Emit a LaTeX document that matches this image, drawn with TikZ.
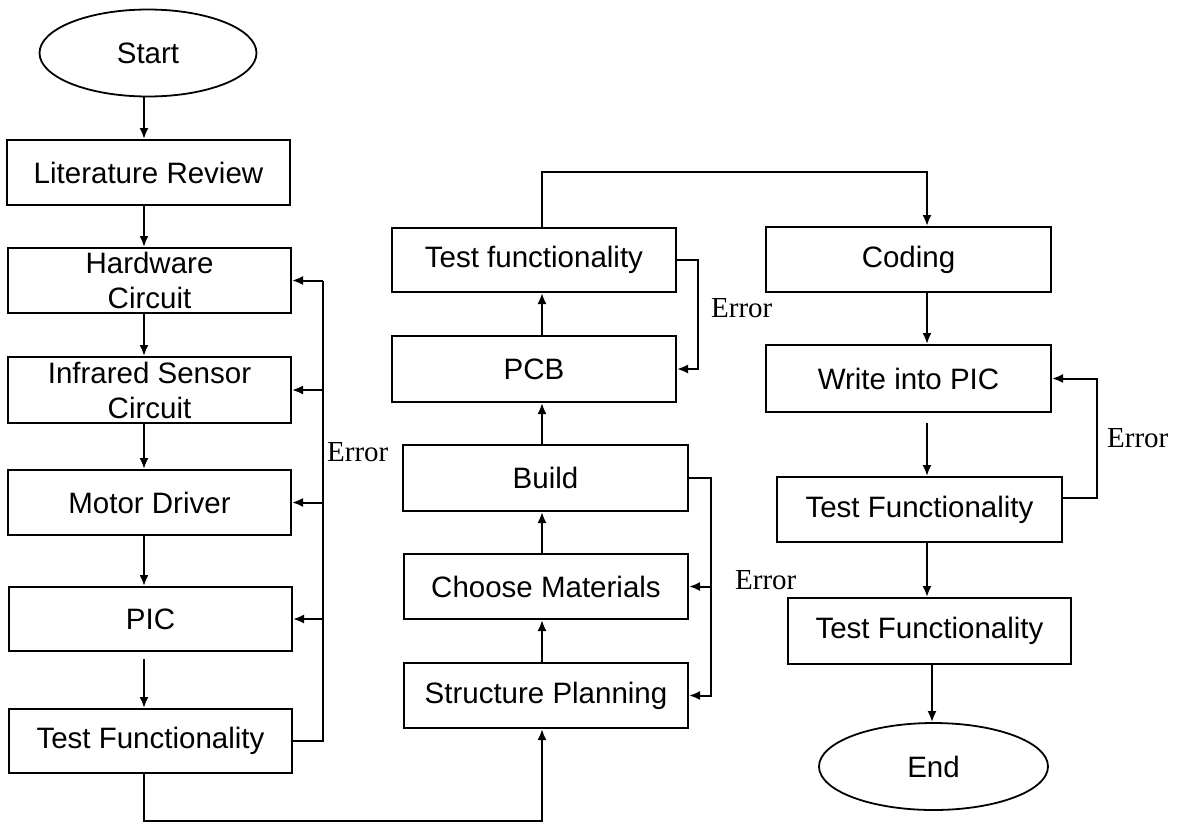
\documentclass[tikz,border=0pt]{standalone}
\usepackage{fontspec}
\setmainfont{Liberation Sans}
\newfontfamily\errfont{Liberation Serif}
\usetikzlibrary{shapes.geometric,arrows.meta,calc}
\begin{document}
\begin{tikzpicture}[x=1pt,y=-1pt,
 box/.style={draw,line width=2pt,rectangle,inner sep=0pt,align=center,font=\fontsize{29.5}{35}\selectfont},
 oval/.style={draw,line width=1.8pt,ellipse,inner sep=0pt,font=\fontsize{29.5}{35}\selectfont},
 arr/.style={line width=2pt,-{Latex[length=11pt,width=9pt]}},
 ln/.style={line width=2pt},
 err/.style={font=\errfont\fontsize{29}{32}\selectfont,inner sep=0pt}]
\useasboundingbox (0,0) rectangle (1186,823);
% column guides
\coordinate (cL) at (144,0);
\coordinate (fbL) at (323,0);
\coordinate (cM) at (542,0);
\coordinate (fbM1) at (698,0);
\coordinate (fbM2) at (711,0);
\coordinate (cR) at (927,0);
\coordinate (cE) at (932,0);
\coordinate (fbR) at (1097,0);
\coordinate (topY) at (0,172);
\coordinate (botY) at (0,821);
% left column
\node[oval,minimum width=217pt,minimum height=87pt] (start) at (148,53) {Start};
\node[box,minimum width=283pt,minimum height=65pt] (lit) at (148.5,172.5) {Literature Review};
\node[box,minimum width=283pt,minimum height=65pt] (hw) at (149.5,280.5) {Hardware\\Circuit};
\node[box,minimum width=283pt,minimum height=66pt] (ir) at (149.5,390) {Infrared Sensor\\Circuit};
\node[box,minimum width=283pt,minimum height=65pt] (md) at (149.5,502.5) {Motor Driver};
\node[box,minimum width=283pt,minimum height=64pt] (pic) at (150.5,619) {PIC};
\node[box,minimum width=283pt,minimum height=64pt] (tf1) at (150.5,741) {Test Functionality};
% middle column
\node[box,minimum width=284pt,minimum height=64pt] (tfm) at (534,260) {Test functionality};
\node[box,minimum width=284pt,minimum height=66pt] (pcb) at (534,369) {PCB};
\node[box,minimum width=285pt,minimum height=66pt] (build) at (545.5,478) {Build};
\node[box,minimum width=284pt,minimum height=65pt] (cm) at (546,586.5) {Choose Materials};
\node[box,minimum width=284pt,minimum height=65pt] (sp) at (546,695.5) {Structure Planning};
% right column
\node[box,minimum width=285pt,minimum height=65pt] (coding) at (908.5,259.5) {Coding};
\node[box,minimum width=285pt,minimum height=67pt] (wip) at (908.5,378.5) {Write into PIC};
\node[box,minimum width=285pt,minimum height=65pt] (tfr) at (919.5,509.5) {Test Functionality};
\node[box,minimum width=283pt,minimum height=66pt] (tfr2) at (929.5,631) {Test Functionality};
\node[oval,minimum width=229pt,minimum height=87pt] (end) at (933.5,766.5) {End};
% error labels
\node[err,anchor=west] (e1) at (327,452) {Error};
\node[err,anchor=west] (e2) at (711,308) {Error};
\node[err,anchor=west] (e3) at (735,580) {Error};
\node[err,anchor=west] (e4) at (1107,438) {Error};
% left column flow
\draw[arr] (start.south -| cL) -- (lit.north -| cL);
\draw[arr] (lit.south -| cL) -- (hw.north -| cL);
\draw[arr] (hw.south -| cL) -- (ir.north -| cL);
\draw[arr] (ir.south -| cL) -- (md.north -| cL);
\draw[arr] (md.south -| cL) -- (pic.north -| cL);
\draw[arr,shorten <=7pt] (pic.south -| cL) -- (tf1.north -| cL);
% left feedback
\draw[ln] (tf1.east) -| (fbL |- hw.east);
\draw[arr] (fbL |- hw.east) -- (hw.east);
\draw[arr] (fbL |- ir.east) -- (ir.east);
\draw[arr] (fbL |- md.east) -- (md.east);
\draw[arr] (fbL |- pic.east) -- (pic.east);
% left to middle
\draw[arr] (tf1.south -| cL) |- (botY -| cM) -- (sp.south -| cM);
% middle flow (upwards)
\draw[arr] (sp.north -| cM) -- (cm.south -| cM);
\draw[arr] (cm.north -| cM) -- (build.south -| cM);
\draw[arr] (build.north -| cM) -- (pcb.south -| cM);
\draw[arr] (pcb.north -| cM) -- (tfm.south -| cM);
% middle feedbacks
\draw[arr] (tfm.east) -| (fbM1 |- pcb.east) -- (pcb.east);
\draw[arr] (build.east) -| (fbM2 |- sp.east) -- (sp.east);
\draw[arr] (fbM2 |- cm.east) -- (cm.east);
% middle to right
\draw[arr] (tfm.north -| cM) |- (topY -| cR) -- (coding.north -| cR);
% right column flow
\draw[arr] (coding.south -| cR) -- (wip.north -| cR);
\draw[arr,shorten <=10pt] (wip.south -| cR) -- (tfr.north -| cR);
\draw[arr] (tfr.south -| cR) -- (tfr2.north -| cR);
\draw[arr] (tfr2.south -| cE) -- (end.north -| cE);
% right feedback
\draw[arr] ($(tfr.east)+(0,-12)$) -| (fbR |- wip.east) -- (wip.east);
\end{tikzpicture}
\end{document}
